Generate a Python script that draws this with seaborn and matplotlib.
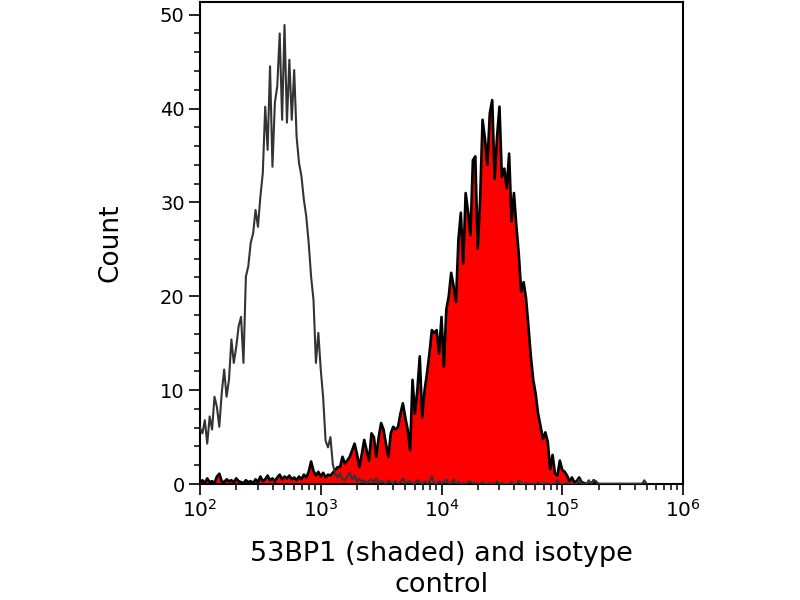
import matplotlib
matplotlib.use("Agg")
import matplotlib.pyplot as plt
from matplotlib.ticker import MultipleLocator
import numpy as np
import seaborn as sns


# cytometer channel grid, log10 of fluorescence intensity (0.02 decade bins)
channel_log10 = np.round(2.0 + 0.02 * np.arange(186), 2)

# isotype control counts (open dark grey trace)
iso_counts = [
    6.0, 5.4, 6.8, 4.3, 7.2, 5.8, 9.3, 8.2, 6.1, 9.7,
    12.2, 9.3, 11.1, 15.4, 12.9, 14.6, 16.8, 17.8, 12.9, 22.1,
    23.2, 25.7, 26.7, 29.2, 27.4, 30.6, 33.1, 40.2, 35.6, 44.5,
    33.8, 40.6, 42.4, 48.0, 38.8, 48.9, 38.5, 45.2, 38.8, 44.1,
    37.0, 34.2, 32.8, 30.3, 28.5, 25.7, 22.1, 19.6, 12.9, 16.1,
    12.2, 9.2, 4.6, 3.9, 5.0, 2.1, 1.1, 0.7, 1.1, 0.5,
    0.4, 0.8, 1.2, 0.5, 0.9, 0.3, 0.6, 0.2, 0.4, 0.1,
    0.3, 0.5, 0.2, 0.6, 0.1, 0.3, 0.2, 0.0, 0.4, 0.2,
    0.1, 0.3, 0.0, 0.2, 0.6, 0.1, 0.2, 0.3, 0.0, 0.1,
    0.4, 0.2, 0.0, 0.3, 0.1, 0.2, 0.8, 0.1, 0.0, 0.3,
    0.1, 0.2, 0.5, 0.0, 0.1, 0.5, 0.0, 0.2, 0.0, 0.1,
    0.0, 0.2, 0.3, 0.0, 0.1, 0.0, 0.0, 0.2, 0.0, 0.0,
    0.1, 0.0, 0.0, 0.3, 0.0, 0.1, 0.0, 0.0, 0.0, 0.2,
    0.0, 0.0, 0.4, 0.0, 0.0, 0.1, 0.0, 0.0, 0.0, 0.0,
    0.2, 0.0, 0.0, 0.1, 0.0, 0.0, 0.0, 0.0, 0.4, 0.0,
    0.0, 0.0, 0.1, 0.0, 0.0, 0.0, 0.0, 0.5, 0.0, 0.0,
    0.0, 0.4, 0.0, 0.4, 0.3, 0.0, 0.0, 0.0, 0.0, 0.0,
    0.0, 0.0, 0.0, 0.0, 0.0, 0.0, 0.0, 0.0, 0.0, 0.0,
    0.0, 0.0, 0.0, 0.0, 0.4, 0.0,
]

# 53BP1 stained counts (red shaded trace)
bp1_counts = [
    0.2, 0.4, 0.1, 0.6, 0.2, 0.3, 0.1, 0.8, 1.1, 0.3,
    0.2, 0.5, 0.3, 0.4, 0.2, 0.6, 0.3, 0.2, 0.1, 0.4,
    0.2, 0.3, 0.1, 0.5, 0.2, 0.8, 0.3, 0.5, 0.9, 0.4,
    0.6, 0.3, 0.7, 1.0, 0.5, 0.8, 0.6, 0.9, 0.5, 0.7,
    0.4, 0.8, 0.5, 1.0, 0.7, 1.3, 2.4, 1.4, 0.9, 1.3,
    0.8, 1.2, 0.7, 1.0, 0.9, 1.2, 1.5, 1.8, 1.8, 2.9,
    2.2, 2.5, 2.9, 3.6, 4.3, 3.2, 1.8, 3.2, 4.7, 3.6,
    2.5, 5.4, 5.0, 2.9, 5.0, 6.5, 5.8, 4.3, 2.9, 5.4,
    6.1, 5.8, 6.1, 7.5, 8.6, 7.1, 5.8, 3.6, 11.1, 7.5,
    10.0, 13.6, 7.1, 10.0, 11.8, 13.9, 16.4, 16.1, 16.4, 13.9,
    17.8, 12.5, 18.6, 20.0, 22.5, 21.1, 19.4, 26.0, 28.9, 23.5,
    31.0, 29.0, 26.5, 34.5, 34.9, 25.1, 30.3, 38.8, 36.8, 34.0,
    39.5, 40.9, 32.5, 37.0, 40.2, 32.7, 33.6, 31.5, 35.2, 28.0,
    31.0, 27.5, 24.5, 20.5, 21.5, 19.8, 16.8, 13.6, 11.1, 9.6,
    7.5, 6.2, 4.8, 5.5, 4.5, 1.6, 3.1, 1.1, 0.9, 2.5,
    1.5, 1.3, 0.9, 0.3, 0.7, 0.2, 0.3, 0.7, 0.2, 0.1,
    0.0, 0.0, 0.0, 0.4, 0.0, 0.0, 0.0, 0.0, 0.0, 0.0,
    0.0, 0.0, 0.0, 0.0, 0.0, 0.0, 0.0, 0.0, 0.0, 0.0,
    0.0, 0.0, 0.0, 0.0, 0.0, 0.0,
]

x_label = "53BP1 (shaded) and isotype\ncontrol"
y_label = "Count"

sns.set_theme(style="ticks")
plt.rcParams["font.family"] = ["DejaVu Sans"]
plt.rcParams["axes.edgecolor"] = "black"
plt.rcParams["axes.labelcolor"] = "black"
plt.rcParams["text.color"] = "black"
plt.rcParams["xtick.color"] = "black"
plt.rcParams["ytick.color"] = "black"

intensity = 10 ** channel_log10

fig = plt.figure(figsize=(8, 6), dpi=100)
ax = fig.add_axes([0.25, 0.1933, 0.60375, 0.8042])

# shaded 53BP1 histogram with black outline, isotype on top
ax.fill_between(intensity, 0, bp1_counts, color="#ff0000", linewidth=0, zorder=1)
sns.lineplot(x=intensity, y=bp1_counts, color="black", linewidth=1.9,
             estimator=None, sort=False, ax=ax, zorder=2)
sns.lineplot(x=intensity, y=iso_counts, color="#333333", linewidth=1.5,
             estimator=None, sort=False, ax=ax, zorder=3)

ax.set_xscale("log")
ax.set_xlim(1e2, 1e6)
ax.set_ylim(0, 51.4)
ax.yaxis.set_major_locator(MultipleLocator(10))
ax.yaxis.set_minor_locator(MultipleLocator(2))

for side in ["left", "right", "top", "bottom"]:
    ax.spines[side].set_linewidth(1.5)
    ax.spines[side].set_color("black")

ax.tick_params(which="major", direction="out", length=8, width=1.2, pad=3)
ax.tick_params(which="minor", direction="out", length=4.5, width=1.1)
ax.tick_params(axis="y", which="major", labelsize=14)
ax.tick_params(axis="x", which="major", labelsize=14.5)

ax.set_xlabel(x_label, fontsize=19.5, linespacing=1.25)
ax.set_ylabel(y_label, fontsize=19)
ax.xaxis.set_label_coords(0.5, -0.118)
ax.yaxis.set_label_coords(-0.158, 0.5)

plt.savefig("out.png", dpi=100)
